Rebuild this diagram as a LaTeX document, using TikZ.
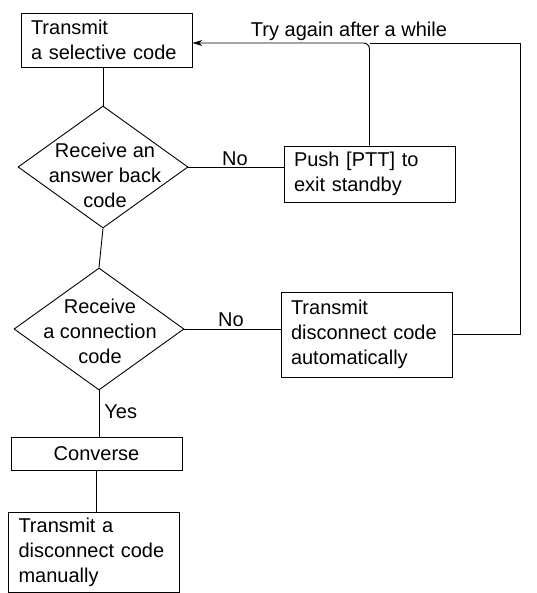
\documentclass[tikz,border=0pt]{standalone}
\usepackage{fontspec}
\setmainfont{Liberation Sans}
\usetikzlibrary{arrows.meta,shapes,calc}

\tikzset{
 box/.style={rectangle,draw,text width=151pt,inner xsep=10pt,inner ysep=5pt,align=left},
 dec/.style={diamond,draw,minimum width=170pt,minimum height=122pt,inner sep=0pt},
}

\begin{document}
\begin{tikzpicture}[x=1pt,y=-1pt,line width=0.9pt,font=\fontsize{20pt}{25pt}\selectfont]
 \useasboundingbox (0,0) rectangle (536,593);
 \node[box,minimum height=54pt] (sel) at (106.5,40) {Transmit\\a selective code};
 \node[dec] (ans) at (103,167) {};
 \node[align=center] (anst) at (105,175) {Receive an\\answer back\\code};
 \node[box,minimum height=56pt] (push) at (369.5,174) {Push [PTT] to\\exit standby};
 \node[dec] (conn) at (99,329) {};
 \node[align=center] (connt) at (100,331) {Receive\\a connection\\code};
 \node[box,minimum height=85pt] (auto) at (366.5,334.5) {Transmit\\disconnect code\\automatically};
 \node[box,align=center,minimum height=33pt] (conv) at (96.5,453.5) {Converse};
 \node[box,minimum height=80pt] (man) at (94,552) {Transmit a\\disconnect code\\manually};
 \node[anchor=base] (no1) at (235,166) {No};
 \node[anchor=base] (no2) at (231,326) {No};
 \node[anchor=base west,inner sep=0pt] (yes) at (104,418) {Yes};
 \node[anchor=base] (try) at (349,37) {Try again after a while};
 \coordinate (tr) at (520,43);
 \draw (ans.north) -- (ans.north |- sel.south);
 \draw (ans.south) -- (conn.north);
 \draw (conn.south) -- (conn.south |- conv.north);
 \draw (conv.south) -- (conv.south |- man.north);
 \draw (ans.east) -- (ans.east -| push.west);
 \draw (conn.east) -- (conn.east -| auto.west);
 \draw (auto.east) -| (tr) -- (push.north |- tr);
 \draw[-{Stealth[length=10pt,width=6pt]},rounded corners=6pt] (push.north) |- (sel.east |- tr);
\end{tikzpicture}
\end{document}
